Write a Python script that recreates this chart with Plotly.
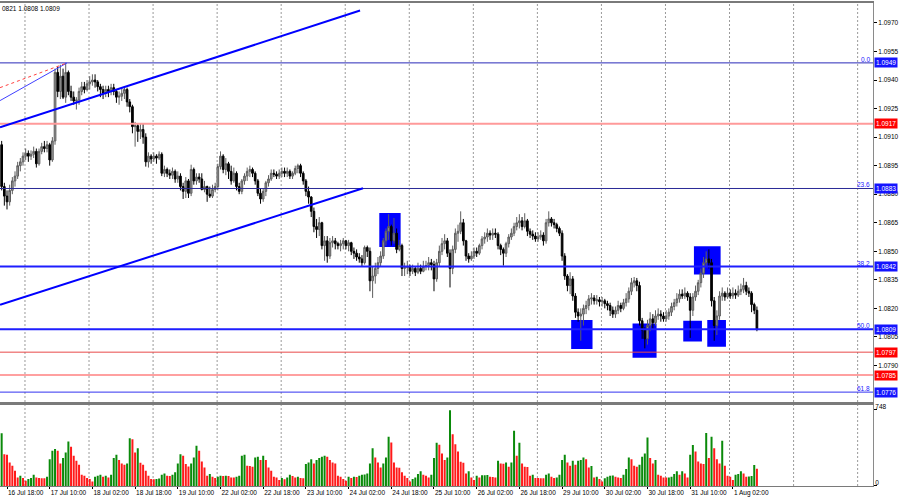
import plotly.graph_objects as go

# ---------------- data (EURUSD H1) ----------------
first_open = 1.0906
close = [
    1.0884, 1.0879, 1.0876, 1.0882, 1.0887, 1.08895, 1.0895, 1.0897, 1.0900, 1.09015, 1.0900, 1.0901,
    1.09025, 1.0896, 1.09025, 1.0905, 1.0904, 1.0906, 1.0898, 1.0908, 1.0944, 1.0934, 1.0942, 1.0931,
    1.0944, 1.0934, 1.0931, 1.0929, 1.09295, 1.0934, 1.09365, 1.0935, 1.0938, 1.0939, 1.0940, 1.0939,
    1.09365, 1.0935, 1.0933, 1.0935, 1.0934, 1.0936, 1.0934, 1.0931, 1.09315, 1.0933, 1.0935, 1.09285,
    1.0926, 1.09155, 1.0916, 1.0913, 1.0914, 1.0910, 1.0897, 1.0900, 1.08985, 1.0900, 1.0899, 1.0901,
    1.0891, 1.0893, 1.0891, 1.0890, 1.0892, 1.0888, 1.08895, 1.0884, 1.08815, 1.0887, 1.08805, 1.0893,
    1.0887, 1.0889, 1.0888, 1.08825, 1.0884, 1.0880, 1.0879, 1.08825, 1.0884, 1.08945, 1.0900, 1.0893,
    1.0896, 1.0892, 1.0887, 1.0891, 1.0884, 1.08815, 1.0887, 1.08895, 1.0892, 1.0893, 1.0891, 1.0887,
    1.08805, 1.08775, 1.08815, 1.0886, 1.0888, 1.0891, 1.08905, 1.08895, 1.0891, 1.0892, 1.0891, 1.0892,
    1.08895, 1.0891, 1.08935, 1.0895, 1.0891, 1.0887, 1.08815, 1.08785, 1.0871, 1.0863, 1.08615, 1.0865,
    1.0853, 1.08555, 1.08475, 1.08545, 1.08555, 1.0854, 1.0853, 1.0854, 1.08555, 1.0853, 1.08545, 1.0850,
    1.0849, 1.0847, 1.0846, 1.0844, 1.0852, 1.0850, 1.08345, 1.0837, 1.0841, 1.0844, 1.08475, 1.08555,
    1.08605, 1.0863, 1.08555, 1.08595, 1.0851, 1.0853, 1.0841, 1.08415, 1.0842, 1.08395, 1.0841, 1.0839,
    1.0841, 1.08395, 1.0842, 1.08425, 1.0844, 1.0843, 1.08355, 1.0844, 1.0850, 1.0854, 1.08555, 1.0849,
    1.0841, 1.0851, 1.08595, 1.08605, 1.0865, 1.08555, 1.08475, 1.0846, 1.08475, 1.0850, 1.0849, 1.0853,
    1.08565, 1.08575, 1.08595, 1.08585, 1.08595, 1.0859, 1.0853, 1.0851, 1.0849, 1.0854, 1.08575, 1.08595,
    1.0863, 1.0865, 1.0866, 1.0863, 1.0866, 1.08605, 1.0859, 1.0858, 1.08565, 1.08575, 1.08585, 1.08555,
    1.0865, 1.0867, 1.0865, 1.0864, 1.0862, 1.08595, 1.08475, 1.0837, 1.0832, 1.08355, 1.08265, 1.0818,
    1.0816, 1.0817, 1.0820, 1.08215, 1.0825, 1.08255, 1.0824, 1.08245, 1.08235, 1.0824, 1.08225, 1.08215,
    1.0819, 1.0817, 1.0819, 1.08215, 1.0820, 1.0823, 1.0825, 1.0829, 1.08335, 1.08345, 1.0832, 1.08135,
    1.08085, 1.0804, 1.0811, 1.08145, 1.08125, 1.0816, 1.0817, 1.0816, 1.08145, 1.0816, 1.0818, 1.0821,
    1.0823, 1.0825, 1.08275, 1.08265, 1.0828, 1.0826, 1.0819, 1.0826, 1.0829, 1.08335, 1.08385, 1.0844,
    1.0846, 1.0844, 1.0824, 1.0811, 1.0816, 1.08265, 1.0828, 1.0826, 1.0828, 1.08265, 1.0828, 1.0827,
    1.0829, 1.0830, 1.0832, 1.0829, 1.0828, 1.0822, 1.0819, 1.0809,
]
high = [
    1.0908, 1.0886, 1.0882, 1.0885, 1.0889, 1.0892, 1.0897, 1.0899, 1.0902, 1.0904, 1.0903, 1.0903,
    1.0905, 1.0904, 1.0904, 1.0907, 1.0908, 1.0908, 1.0907, 1.0910, 1.0946, 1.0947, 1.0948, 1.0946,
    1.0949, 1.0945, 1.0937, 1.0934, 1.0931, 1.0936, 1.0939, 1.0939, 1.0940, 1.0942, 1.0943, 1.0943,
    1.0940, 1.0938, 1.0937, 1.0937, 1.0937, 1.0938, 1.0938, 1.0935, 1.0934, 1.0936, 1.09365, 1.0936,
    1.0930, 1.0927, 1.0918, 1.0917, 1.0917, 1.0917, 1.0912, 1.0902, 1.0901, 1.0902, 1.0901, 1.09025,
    1.0902, 1.0895, 1.0894, 1.0893, 1.0894, 1.0893, 1.0892, 1.0891, 1.0886, 1.0889, 1.0888, 1.08955,
    1.0894, 1.0891, 1.0891, 1.0891, 1.0887, 1.08845, 1.0884, 1.0885, 1.0886, 1.0896, 1.09025, 1.0901,
    1.0899, 1.0897, 1.0895, 1.0894, 1.0892, 1.0886, 1.0888, 1.0891, 1.0894, 1.0895, 1.0894, 1.0892,
    1.0888, 1.0883, 1.0883, 1.0887, 1.0890, 1.0893, 1.0893, 1.0892, 1.0893, 1.0894, 1.0894, 1.0894,
    1.0893, 1.0892, 1.0895, 1.0896, 1.0896, 1.0892, 1.0888, 1.0884, 1.0879, 1.0873, 1.0867, 1.0868,
    1.08655, 1.0858, 1.0858, 1.0857, 1.0858, 1.0857, 1.0855, 1.0856, 1.0857, 1.0856, 1.0856, 1.0855,
    1.0852, 1.0851, 1.0849, 1.0848, 1.0853, 1.0853, 1.0852, 1.0842, 1.0844, 1.0847, 1.0850, 1.0857,
    1.0862, 1.08695, 1.0864, 1.08675, 1.0862, 1.0856, 1.0854, 1.0844, 1.0845, 1.0843, 1.0843, 1.0842,
    1.0844, 1.0843, 1.0845, 1.0845, 1.0847, 1.0846, 1.0845, 1.0846, 1.0853, 1.0857, 1.0859, 1.0857,
    1.0851, 1.0853, 1.0862, 1.0864, 1.0871, 1.0867, 1.0856, 1.0849, 1.0850, 1.0852, 1.0852, 1.0854,
    1.0858, 1.0860, 1.0862, 1.0861, 1.0862, 1.0862, 1.0860, 1.0854, 1.0852, 1.0855, 1.0859, 1.0862,
    1.0865, 1.0868, 1.08695, 1.0868, 1.0870, 1.0867, 1.0862, 1.0861, 1.0860, 1.0860, 1.0861, 1.0860,
    1.0867, 1.0871, 1.0868, 1.0867, 1.0865, 1.0863, 1.0861, 1.0849, 1.0838, 1.0839, 1.0837, 1.0828,
    1.0820, 1.0820, 1.0822, 1.0824, 1.0827, 1.0828, 1.0827, 1.0827, 1.0826, 1.0826, 1.0825, 1.0824,
    1.0823, 1.0821, 1.0821, 1.0824, 1.0823, 1.0825, 1.0828, 1.0831, 1.0836, 1.08365, 1.0836, 1.0834,
    1.0815, 1.0810, 1.0814, 1.0818, 1.0817, 1.0819, 1.0820, 1.0819, 1.0818, 1.0819, 1.0820, 1.0823,
    1.0825, 1.0828, 1.0830, 1.0830, 1.0831, 1.0829, 1.0828, 1.0828, 1.0832, 1.0835, 1.0841, 1.0847,
    1.0850, 1.0851, 1.0846, 1.0826, 1.0819, 1.0829, 1.0831, 1.0829, 1.0831, 1.0830, 1.0831, 1.0830,
    1.0832, 1.0833, 1.0836, 1.0834, 1.0831, 1.0829, 1.0823, 1.0821,
]
low = [
    1.0882, 1.0874, 1.0872, 1.0874, 1.0880, 1.0884, 1.0888, 1.0892, 1.0895, 1.0898, 1.0897, 1.0898,
    1.0899, 1.0894, 1.0895, 1.0901, 1.0902, 1.0902, 1.0895, 1.0897, 1.0906, 1.0931, 1.0930, 1.0930,
    1.0928, 1.0932, 1.0929, 1.0927, 1.09245, 1.0927, 1.0932, 1.0933, 1.0934, 1.0935, 1.0937, 1.0936,
    1.0934, 1.0931, 1.0930, 1.0931, 1.0931, 1.0932, 1.0932, 1.0928, 1.0927, 1.0929, 1.0930, 1.0926,
    1.0923, 1.0912, 1.0905, 1.09075, 1.0909, 1.09065, 1.08945, 1.0894, 1.0896, 1.0897, 1.0896, 1.0898,
    1.08895, 1.0889, 1.0889, 1.0888, 1.0888, 1.0886, 1.0886, 1.0882, 1.08775, 1.0878, 1.0878, 1.0879,
    1.0885, 1.0885, 1.0886, 1.0882, 1.0881, 1.0876, 1.0878, 1.0878, 1.0881, 1.0882, 1.0893, 1.0891,
    1.0890, 1.0888, 1.0885, 1.0886, 1.0882, 1.0880, 1.0880, 1.0885, 1.0887, 1.0889, 1.0889, 1.0885,
    1.0879, 1.0875, 1.0876, 1.0879, 1.0884, 1.0887, 1.0889, 1.0888, 1.0888, 1.0889, 1.0889, 1.0889,
    1.0888, 1.0888, 1.0890, 1.0891, 1.0889, 1.0885, 1.0879, 1.0875, 1.0868, 1.0860, 1.0857, 1.0858,
    1.0851, 1.0845, 1.0844, 1.0846, 1.0852, 1.0851, 1.0851, 1.0850, 1.0851, 1.0851, 1.0850, 1.0848,
    1.0846, 1.0845, 1.0844, 1.0842, 1.0843, 1.0847, 1.0829, 1.08255, 1.0833, 1.0838, 1.0842, 1.0846,
    1.0853, 1.0856, 1.0853, 1.0854, 1.0849, 1.0850, 1.0837, 1.0837, 1.0838, 1.0837, 1.0838, 1.0837,
    1.0838, 1.0838, 1.0839, 1.0840, 1.0840, 1.0840, 1.0829, 1.0834, 1.0842, 1.0848, 1.0851, 1.0847,
    1.0831, 1.0838, 1.0849, 1.0855, 1.0859, 1.0853, 1.0845, 1.0844, 1.0845, 1.0846, 1.0847, 1.0848,
    1.0851, 1.0854, 1.0855, 1.0856, 1.0856, 1.0857, 1.0851, 1.0848, 1.08425, 1.0847, 1.0852, 1.0856,
    1.0858, 1.0861, 1.0862, 1.0861, 1.0862, 1.0858, 1.0857, 1.0856, 1.0855, 1.0855, 1.0856, 1.0853,
    1.0854, 1.0863, 1.0863, 1.0862, 1.0860, 1.0858, 1.0845, 1.0835, 1.0829, 1.08275, 1.0824, 1.0815,
    1.0813, 1.0803, 1.0811, 1.0817, 1.0819, 1.0822, 1.0822, 1.0822, 1.0821, 1.0821, 1.0820, 1.0819,
    1.0816, 1.0815, 1.0815, 1.0817, 1.0818, 1.0819, 1.0821, 1.0823, 1.0827, 1.0831, 1.0829, 1.0811,
    1.0804, 1.0799, 1.0801, 1.0808, 1.0809, 1.0811, 1.0814, 1.0813, 1.0813, 1.0813, 1.0814, 1.0816,
    1.0819, 1.0821, 1.0823, 1.0825, 1.0825, 1.0824, 1.08045, 1.0816, 1.0824, 1.0827, 1.0831, 1.0836,
    1.0842, 1.0841, 1.0821, 1.0803, 1.0806, 1.0814, 1.0824, 1.0824, 1.0825, 1.0825, 1.0825, 1.0825,
    1.0826, 1.0827, 1.0828, 1.0827, 1.0826, 1.0818, 1.0817, 1.0808,
]
volume = [
    515, 311, 305, 230, 198, 149, 84, 100, 78, 52, 68, 78,
    110, 84, 78, 76, 75, 91, 262, 343, 360, 343, 220, 272,
    327, 434, 382, 295, 246, 207, 110, 100, 78, 68, 45, 91,
    100, 110, 91, 100, 84, 110, 272, 305, 253, 220, 207, 220,
    467, 457, 327, 369, 227, 207, 149, 100, 68, 65, 68, 72,
    110, 123, 100, 98, 110, 133, 220, 311, 295, 214, 191, 220,
    279, 392, 343, 240, 181, 100, 117, 91, 78, 91, 100, 97,
    100, 97, 84, 82, 91, 100, 295, 305, 198, 195, 188, 279,
    285, 253, 295, 253, 181, 149, 91, 84, 58, 78, 65, 84,
    110, 97, 84, 91, 78, 76, 214, 230, 262, 220, 253, 272,
    285, 295, 285, 253, 230, 220, 100, 91, 68, 52, 91, 78,
    91, 88, 100, 110, 112, 123, 220, 369, 279, 230, 181, 220,
    279, 480, 424, 230, 181, 178, 133, 100, 78, 45, 68, 84,
    117, 143, 110, 100, 84, 110, 272, 421, 402, 317, 253, 279,
    739, 505, 408, 337, 237, 227, 123, 143, 84, 58, 100, 84,
    104, 106, 108, 91, 89, 84, 246, 220, 218, 230, 188, 230,
    538, 295, 421, 220, 188, 186, 100, 110, 78, 77, 76, 75,
    110, 123, 91, 78, 84, 110, 253, 305, 230, 198, 246, 207,
    246, 253, 279, 262, 181, 194, 84, 91, 68, 45, 75, 91,
    100, 102, 91, 84, 78, 110, 165, 279, 262, 198, 188, 207,
    285, 318, 473, 272, 220, 253, 110, 100, 84, 82, 84, 91,
    117, 143, 110, 143, 123, 84, 305, 399, 337, 240, 220, 214,
    518, 272, 480, 369, 262, 220, 441, 198, 100, 91, 58, 110,
    117, 143, 123, 91, 93, 97, 204, 168,
]
bars = list(range(len(close)))
open_ = [first_open] + close[:-1]

date_labels = ["16 Jul 18:00", "17 Jul 10:00", "18 Jul 02:00", "18 Jul 18:00", "19 Jul 10:00",
               "22 Jul 02:00", "22 Jul 18:00", "23 Jul 10:00", "24 Jul 02:00", "24 Jul 18:00",
               "25 Jul 10:00", "26 Jul 02:00", "26 Jul 18:00", "29 Jul 10:00", "30 Jul 02:00",
               "30 Jul 18:00", "31 Jul 10:00", "1 Aug 02:00"]
first_label_bar = 2
label_step = 16
price_ticks = [1.0790, 1.0805, 1.0820, 1.0835, 1.0850, 1.0865, 1.0880, 1.0895,
               1.0910, 1.0925, 1.0940, 1.0955, 1.0970]
volume_ticks = [0, 748]

# horizontal levels: (price, colour, width, tag colour, fib label)
levels = [
    (1.0949, "#2a2ab8", 1, "#1414ff", "0.0"),
    (1.0917, "#ff9a9a", 2, "#ff0000", ""),
    (1.0883, "#2a2a96", 1, "#1414ff", "23.6"),
    (1.0842, "#1e1eff", 2, "#1414ff", "38.2"),
    (1.0809, "#1e1eff", 2, "#1414ff", "50.0"),
    (1.0797, "#e84a4a", 1, "#ff0000", ""),
    (1.0785, "#ffa0a0", 2, "#ff0000", ""),
    (1.0776, "#3232f0", 1, "#1414ff", "61.8"),
]
# trend lines: (bar0, price0, bar1, price1, colour, width, dash)
trend_lines = [
    (-0.6, 1.09151, 134.3, 1.09765, "#0000ff", 2, "solid"),
    (-0.6, 1.08219, 135.4, 1.08831, "#0000ff", 2, "solid"),
    (-0.6, 1.09292, 24.5, 1.0949, "#4040ff", 1, "solid"),
    (-0.6, 1.09360, 24.5, 1.0949, "#ff4040", 1, "dot"),
]
# highlight boxes: (bar0, bar1, price_low, price_high)
boxes = [
    (141.5, 149.5, 1.08523, 1.08701),
    (213.4, 221.4, 1.07987, 1.08139),
    (236.4, 245.4, 1.07940, 1.08121),
    (255.4, 262.4, 1.08026, 1.08135),
    (264.4, 271.4, 1.07998, 1.08139),
    (259.4, 269.4, 1.08378, 1.08526),
]
header_text = "0821 1.0808 1.0809"

# ---------------- figure ----------------
FONT = "Liberation Sans"
vol_colors = ["#0a8a0a" if i == 0 or volume[i] > volume[i - 1] else "#ff1a1a"
              for i in range(len(volume))]

fig = go.Figure()
fig.add_trace(go.Candlestick(
    x=bars, open=open_, high=high, low=low, close=close,
    increasing=dict(line=dict(color="#5e5e5e", width=1), fillcolor="#9c9c9c"),
    decreasing=dict(line=dict(color="#000000", width=1), fillcolor="#000000"),
    whiskerwidth=0, xaxis="x", yaxis="y", hoverinfo="skip", showlegend=False,
))
fig.add_trace(go.Bar(
    x=bars, y=volume, marker=dict(color=vol_colors, line=dict(width=0)),
    width=0.75, xaxis="x2", yaxis="y2", hoverinfo="skip", showlegend=False,
))

x_range = [-0.622, 326.5]
shapes = []
# dotted vertical grid
g = 8.74
while g < x_range[1]:
    shapes.append(dict(type="line", xref="x", yref="paper", x0=g, x1=g, y0=0, y1=1,
                       line=dict(color="#9a9a9a", width=1, dash="2px,2px"), layer="below"))
    g += 24
for b0, b1, p0, p1 in boxes:
    shapes.append(dict(type="rect", xref="x", yref="y", x0=b0, x1=b1, y0=p0, y1=p1,
                       fillcolor="#0000ff", line=dict(width=0), layer="below"))
for price, col, w, tag, fib in levels:
    shapes.append(dict(type="line", xref="paper", yref="y", x0=0, x1=1, y0=price, y1=price,
                       line=dict(color=col, width=w), layer="above"))
for b0, p0, b1, p1, col, w, dash in trend_lines:
    shapes.append(dict(type="line", xref="x", yref="y", x0=b0, x1=b1, y0=p0, y1=p1,
                       line=dict(color=col, width=w, dash=dash), layer="above"))

annotations = []
for price, col, w, tag, fib in levels:
    annotations.append(dict(xref="paper", yref="y", x=1.0, y=price, xanchor="left",
                            yanchor="middle", text=f"{price:.4f}", showarrow=False,
                            bgcolor=tag, borderpad=1, xshift=1,
                            font=dict(family=FONT, size=6.5, color="white")))
    if fib:
        annotations.append(dict(xref="paper", yref="y", x=1.0, y=price, xanchor="right",
                                yanchor="bottom", text=fib, showarrow=False, xshift=-1,
                                yshift=-2, font=dict(family=FONT, size=6.5, color="#2020ff")))
annotations.append(dict(xref="paper", yref="paper", x=0, y=0.9876, xanchor="left",
                        yanchor="middle", text=header_text, showarrow=False,
                        font=dict(family=FONT, size=6.5, color="black")))

fig.update_layout(
    width=900, height=500,
    margin=dict(l=0, r=27, t=1, b=14),
    paper_bgcolor="white", plot_bgcolor="white",
    hovermode=False, showlegend=False, boxgap=0.1,
    shapes=shapes, annotations=annotations,
    xaxis=dict(domain=[0, 1], anchor="y", range=x_range, showticklabels=False,
               showgrid=False, zeroline=False, showline=True, mirror=True,
               linecolor="#7a7a7a", linewidth=2, ticks="", rangeslider=dict(visible=False)),
    yaxis=dict(domain=[0.1732, 1], anchor="x", range=[1.077063, 1.098047], side="right",
               tickvals=price_ticks, ticktext=[f"{t:.4f}" for t in price_ticks],
               ticks="outside", ticklen=3, tickcolor="#000000", showgrid=False,
               zeroline=False, showline=True, linecolor="#8a8a8a", linewidth=1,
               tickfont=dict(family=FONT, size=6.5, color="black")),
    xaxis2=dict(domain=[0, 1], anchor="y2", matches="x", range=x_range,
                tickvals=[first_label_bar + label_step * i for i in range(len(date_labels))],
                ticktext=date_labels, ticklabelposition="outside right", tickangle=0,
                ticks="outside", ticklen=2, tickcolor="#000000",
                showgrid=False, zeroline=False, showline=True, mirror=True,
                linecolor="#7a7a7a", linewidth=1,
                tickfont=dict(family=FONT, size=6.5, color="black")),
    yaxis2=dict(domain=[0, 0.167], anchor="x2", range=[0, 787], side="right",
                tickvals=volume_ticks, ticktext=[str(v) for v in volume_ticks],
                ticklabelposition="outside top", ticklabelshift=2,
                ticks="outside", ticklen=3, tickcolor="#000000", showgrid=False,
                zeroline=False, showline=True, linecolor="#8a8a8a", linewidth=1,
                tickfont=dict(family=FONT, size=6.5, color="black")),
)

fig.write_html("out.html", config={"displayModeBar": False},
               post_script="document.body.style.margin='0';document.body.style.padding='0';")
